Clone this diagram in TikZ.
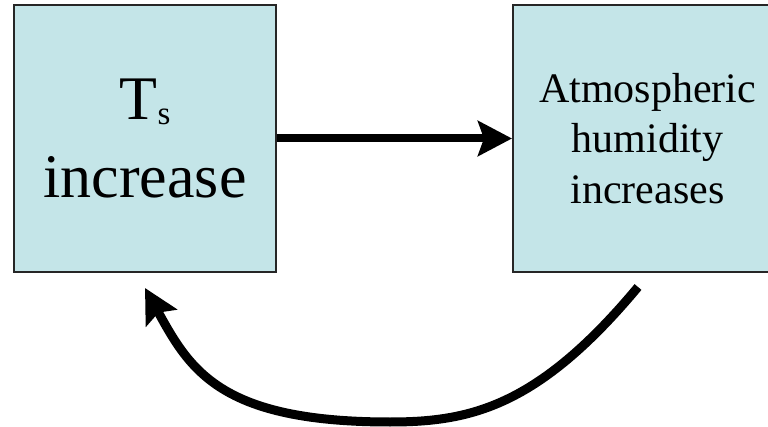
\documentclass[tikz,border=0pt]{standalone}
\usepackage{fontspec}
\setmainfont{Liberation Serif}
\usetikzlibrary{arrows.meta}
\definecolor{boxfill}{RGB}{196,229,232}
\begin{document}
\begin{tikzpicture}[x=1pt,y=-1pt,
  panel/.style={draw=black!85, line width=2pt, fill=boxfill, inner sep=0pt, align=center},
  flow/.style={line width=8pt, -{Stealth[length=34pt,width=35pt,inset=6pt]}}]
\useasboundingbox (0,0) rectangle (768,427);
\clip (0,0) rectangle (768,427);
% the two boxes of the feedback loop
\node[panel, minimum width=262pt, minimum height=267pt,
      font=\fontsize{62}{78}\selectfont] (ts) at (145,138.5)
  {T\raisebox{-5pt}{\fontsize{33}{33}\selectfont s}\\increase};
\node[panel, minimum width=269pt, minimum height=267pt,
      font=\fontsize{42}{50.5}\selectfont] (hum) at (647.5,138.5)
  {Atmospheric\\humidity\\increases};
% forward link
\draw[flow] (ts.east) -- (hum.west);
% return link underneath, flat along the bottom
\coordinate (fbstart) at (638,287);
\coordinate (fbmid) at (390,422);
\coordinate (fbend) at (145,288);
\draw[flow, line width=9pt]
  (fbstart) .. controls (538,407) and (470,422) .. (fbmid)
            .. controls (220,422) and (190,370) .. (fbend);
\end{tikzpicture}
\end{document}
